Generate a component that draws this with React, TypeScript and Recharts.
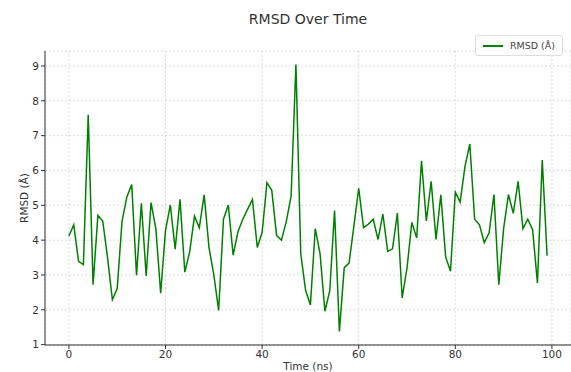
import { CartesianGrid, Legend, Line, LineChart, XAxis, YAxis } from "recharts";

const TIME = Array.from({ length: 100 }, (_, i) => i);
const RMSD = [
  4.12, 4.44, 3.39, 3.3, 7.6, 2.72, 4.71, 4.55, 3.5, 2.29,
  2.61, 4.55, 5.24, 5.6, 2.99, 5.06, 2.97, 5.08, 4.33, 2.48,
  4.28, 5.01, 3.74, 5.17, 3.08, 3.66, 4.69, 4.36, 5.3, 3.79,
  3.0, 1.98, 4.6, 5.01, 3.57, 4.24, 4.6, 4.89, 5.17, 3.79,
  4.22, 5.65, 5.43, 4.13, 4.0, 4.53, 5.26, 9.04, 3.61, 2.56,
  2.14, 4.33, 3.61, 1.96, 2.54, 4.85, 1.38, 3.21, 3.34, 4.4,
  5.49, 4.36, 4.46, 4.6, 4.02, 4.75, 3.68, 3.75, 4.78, 2.34,
  3.2, 4.51, 4.06, 6.28, 4.55, 5.69, 4.02, 5.3, 3.52, 3.11,
  5.38, 5.09, 6.12, 6.76, 4.6, 4.44, 3.93, 4.21, 5.31, 2.72,
  4.33, 5.31, 4.77, 5.69, 4.33, 4.6, 4.3, 2.77, 6.3, 3.55,
];
const X_TICKS = [0, 20, 40, 60, 80, 100];
const Y_TICKS = [1, 2, 3, 4, 5, 6, 7, 8, 9];

const data = TIME.map((t, i) => ({ t, rmsd: RMSD[i] }));

const FONT = "DejaVu Sans, sans-serif";
const TICK = { fill: "#333", fontSize: 10.5, fontFamily: FONT };
const GREEN = "#008000";

function LegendBox() {
  return (
    <div
      style={{
        display: "flex",
        alignItems: "center",
        gap: 7,
        padding: "4px 7px",
        border: "1px solid #ddd",
        borderRadius: 3,
        background: "#fff",
        fontFamily: FONT,
        fontSize: 9.5,
        color: "#444",
      }}
    >
      <span style={{ display: "inline-block", width: 20, height: 2, background: GREEN }} />
      <span>RMSD (Å)</span>
    </div>
  );
}

export default function App() {
  return (
    <div style={{ position: "absolute", left: 0, top: 0, width: 571, height: 372, background: "#fff" }}>
      <div
        style={{
          position: "absolute",
          top: 11,
          left: 45,
          width: 526,
          textAlign: "center",
          fontFamily: FONT,
          fontSize: 14,
          color: "#333",
        }}
      >
        RMSD Over Time
      </div>
      <LineChart width={571} height={372} data={data} margin={{ top: 30, right: 0, left: 0, bottom: 0 }}>
        <CartesianGrid stroke="#dcdcdc" strokeDasharray="2 2" />
        <XAxis
          dataKey="t"
          type="number"
          domain={[-4.95, 103.95]}
          ticks={X_TICKS}
          height={27}
          tick={TICK}
          tickSize={4}
          stroke="#333"
          label={{ value: "Time (ns)", position: "insideBottom", offset: 2, fill: "#333", fontSize: 10.5, fontFamily: FONT }}
        />
        <YAxis
          type="number"
          domain={[0.99, 9.43]}
          ticks={Y_TICKS}
          width={45}
          tick={TICK}
          tickSize={4}
          stroke="#333"
          label={{ value: "RMSD (Å)", angle: -90, position: "insideLeft", offset: 24, fill: "#333", fontSize: 10.5, fontFamily: FONT, style: { textAnchor: "middle" } }}
        />
        <Legend
          verticalAlign="top"
          align="right"
          content={() => <LegendBox />}
          wrapperStyle={{ top: 35, right: 8, left: "auto", width: "auto" }}
        />
        <Line
          type="linear"
          dataKey="rmsd"
          name="RMSD (Å)"
          stroke={GREEN}
          strokeWidth={1.5}
          dot={false}
          isAnimationActive={false}
        />
      </LineChart>
    </div>
  );
}
